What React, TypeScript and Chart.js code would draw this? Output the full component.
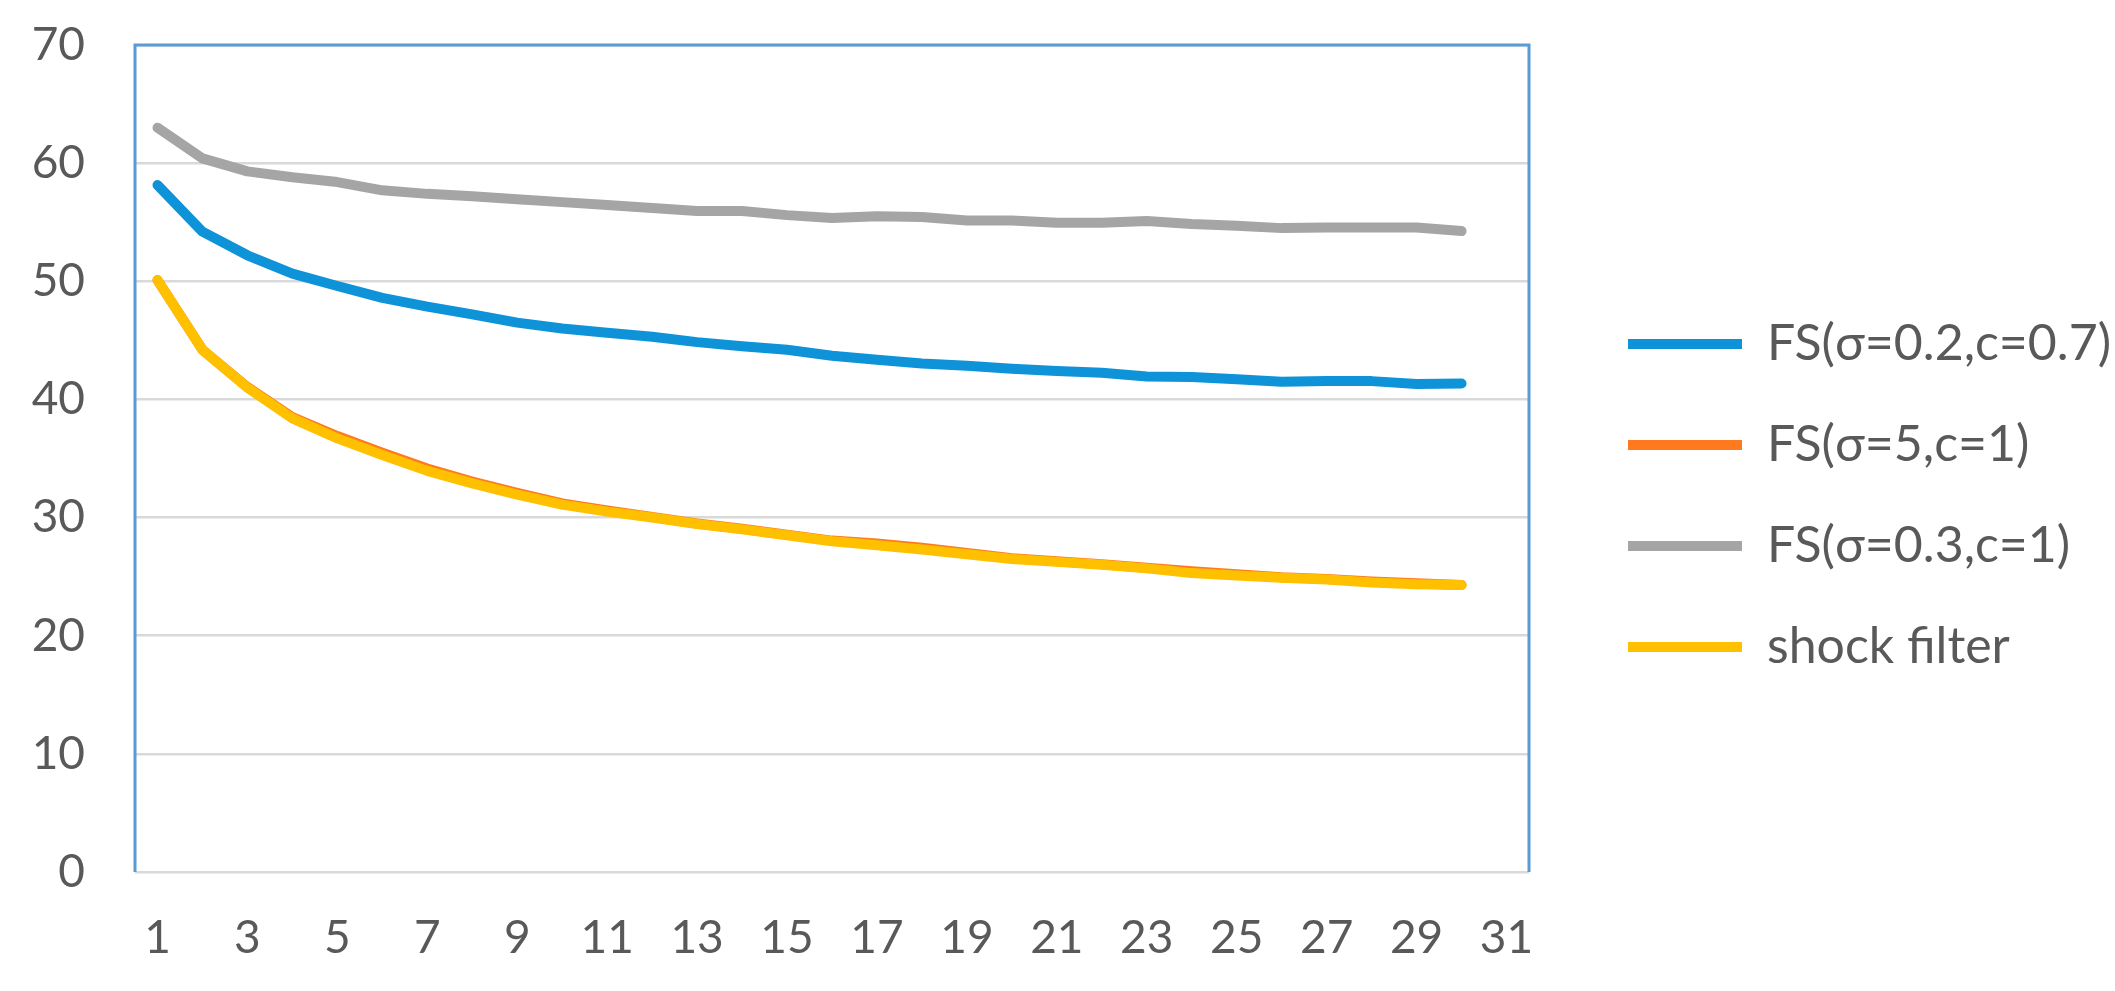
import React, { useEffect, useRef } from "react";
import { Chart, registerables } from "chart.js";

Chart.register(...registerables);

const categories = [
  "1", "2", "3", "4", "5", "6", "7", "8", "9", "10",
  "11", "12", "13", "14", "15", "16", "17", "18", "19", "20",
  "21", "22", "23", "24", "25", "26", "27", "28", "29", "30", "31",
];

const seriesNames = [
  "FS(σ=0.2,c=0.7)",
  "FS(σ=5,c=1)",
  "FS(σ=0.3,c=1)",
  "shock filter",
];

const fsBlue = [
  58.15, 54.2, 52.2, 50.65, 49.6, 48.6, 47.85, 47.2, 46.5, 46.0,
  45.65, 45.3, 44.85, 44.5, 44.2, 43.7, 43.35, 43.05, 42.85, 42.6,
  42.4, 42.25, 41.95, 41.9, 41.7, 41.5, 41.55, 41.55, 41.3, 41.35,
];

const fsOrange = [
  50.1, 44.2, 41.05, 38.5, 36.9, 35.5, 34.15, 33.05, 32.1, 31.2,
  30.6, 30.05, 29.5, 29.05, 28.55, 28.05, 27.8, 27.45, 27.0, 26.55,
  26.3, 26.05, 25.75, 25.45, 25.2, 24.95, 24.8, 24.6, 24.45, 24.3,
];

const fsGray = [
  63.0, 60.4, 59.3, 58.8, 58.4, 57.7, 57.4, 57.2, 56.95, 56.7,
  56.45, 56.2, 55.95, 55.95, 55.6, 55.35, 55.5, 55.45, 55.15, 55.15,
  54.95, 54.95, 55.1, 54.85, 54.7, 54.5, 54.55, 54.55, 54.55, 54.25,
];

const shockFilter = [
  50.1, 44.2, 41.0, 38.4, 36.7, 35.3, 33.95, 32.9, 31.95, 31.1,
  30.5, 30.0, 29.45, 29.0, 28.5, 28.0, 27.65, 27.3, 26.9, 26.5,
  26.25, 26.0, 25.7, 25.3, 25.1, 24.9, 24.75, 24.5, 24.35, 24.3,
];

const yTicks = [0, 10, 20, 30, 40, 50, 60, 70];

const colors = ["#0E93D8", "#FF7A1E", "#A5A5A5", "#FFC000"];
const TEXT = "#595959";
const FONT = "Lato, 'Open Sans', 'DejaVu Sans', sans-serif";

const framePlugin = {
  id: "frame",
  beforeDatasetsDraw(chart: any) {
    const { ctx, chartArea } = chart;
    const { left, top, right, bottom } = chartArea;
    ctx.save();
    ctx.strokeStyle = "#5B9BD5";
    ctx.lineWidth = 3;
    ctx.beginPath();
    ctx.moveTo(left, bottom);
    ctx.lineTo(left, top);
    ctx.lineTo(right, top);
    ctx.lineTo(right, bottom);
    ctx.stroke();
    ctx.restore();
  },
};

export default function App() {
  const ref = useRef<HTMLCanvasElement | null>(null);

  useEffect(() => {
    if (!ref.current) return;
    const values = [fsBlue, fsOrange, fsGray, shockFilter];
    const chart = new Chart(ref.current, {
      type: "line",
      data: {
        labels: categories,
        datasets: seriesNames.map((name, i) => ({
          label: name,
          data: values[i],
          borderColor: colors[i],
          backgroundColor: colors[i],
          borderWidth: 10,
          pointRadius: 0,
          pointHoverRadius: 0,
          tension: 0,
          fill: false,
          borderCapStyle: "round",
          borderJoinStyle: "round",
          pointStyle: "line",
          order: i === 3 ? 0 : 1,
        })),
      },
      options: {
        responsive: false,
        animation: false,
        devicePixelRatio: 1,
        layout: { padding: { top: 0, left: 0, right: 0, bottom: 0 } },
        plugins: {
          tooltip: { enabled: false },
          title: { display: false },
          legend: {
            display: true,
            position: "right",
            align: "center",
            maxWidth: 538,
            labels: {
              usePointStyle: true,
              pointStyle: "line",
              pointStyleWidth: 114,
              boxHeight: 50,
              padding: 51,
              color: TEXT,
              font: { family: FONT, size: 50 },
              sort: (a: any, b: any) => a.datasetIndex - b.datasetIndex,
            },
          },
        },
        scales: {
          x: {
            type: "category",
            offset: true,
            grid: { display: false, drawTicks: false },
            border: { display: false },
            ticks: {
              autoSkip: false,
              maxRotation: 0,
              minRotation: 0,
              padding: 39,
              color: TEXT,
              font: { family: FONT, size: 46 },
              callback: (_v: any, idx: number) => (idx % 2 === 0 ? categories[idx] : ""),
            },
            afterFit: (s: any) => {
              s.height = 119;
            },
          },
          y: {
            min: yTicks[0],
            max: yTicks[yTicks.length - 1],
            grid: { color: "#D9D9D9", lineWidth: 2.5, drawTicks: false },
            border: { display: false },
            ticks: {
              stepSize: 10,
              padding: 50,
              color: TEXT,
              font: { family: FONT, size: 46 },
            },
            afterFit: (s: any) => {
              s.width = 135;
              s.paddingTop = 45;
              s.paddingBottom = 0;
            },
          },
          pad: {
            type: "linear",
            position: "right",
            display: true,
            grid: { display: false, drawTicks: false },
            border: { display: false },
            ticks: { display: false },
            afterFit: (s: any) => {
              s.width = 48;
            },
          },
        },
      },
      plugins: [framePlugin],
    } as any);
    return () => chart.destroy();
  }, []);

  return (
    <div style={{ position: "absolute", left: 0, top: 0, width: 2115, height: 991, background: "#fff" }}>
      <canvas ref={ref} width={2115} height={991} />
    </div>
  );
}
